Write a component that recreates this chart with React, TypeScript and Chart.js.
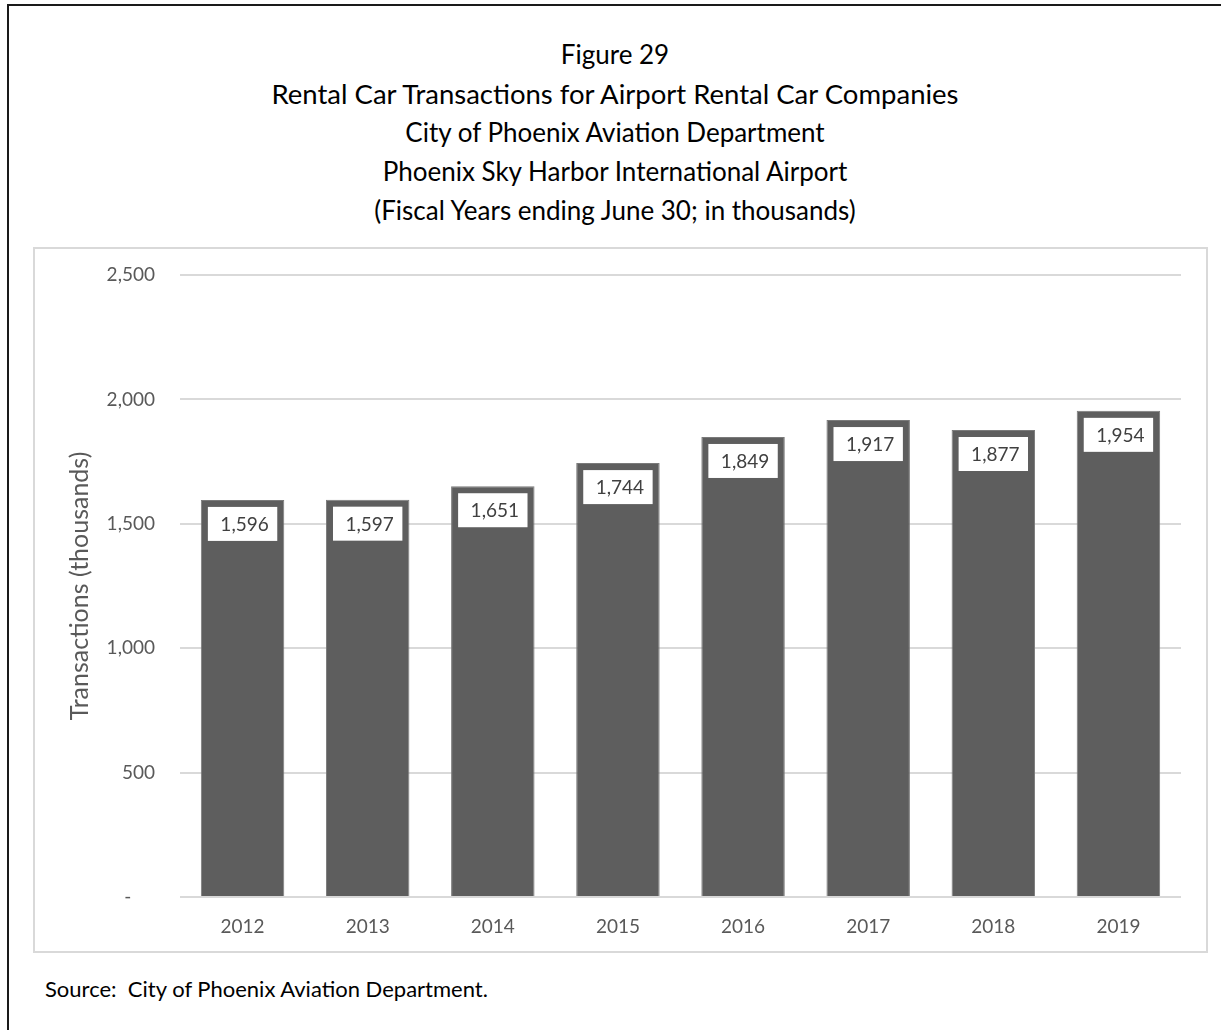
import React, { useEffect, useRef } from "react";
import { Chart, registerables } from "chart.js";

Chart.register(...registerables);

const titleLines = [
  "Figure 29",
  "Rental Car Transactions for Airport Rental Car Companies",
  "City of Phoenix Aviation Department",
  "Phoenix Sky Harbor International Airport",
  "(Fiscal Years ending June 30; in thousands)",
];
const categories = ["2012", "2013", "2014", "2015", "2016", "2017", "2018", "2019"];
const transactions = [1596, 1597, 1651, 1744, 1849, 1917, 1877, 1954];
const yMin = 0;
const yMax = 2500;
const yStep = 500;
const yAxisTitle = "Transactions (thousands)";
const sourceNote = "Source:  City of Phoenix Aviation Department.";

const FONT = "Lato, 'Open Sans', sans-serif";

const fmt = (v: number) => (v === 0 ? "-\u2003\u2002" : v.toLocaleString("en-US"));

const valueLabelPlugin = {
  id: "valueLabels",
  afterDatasetsDraw(chart: any) {
    const ctx = chart.ctx;
    const meta = chart.getDatasetMeta(0);
    const data = chart.data.datasets[0].data as number[];
    ctx.save();
    ctx.font = `19px ${FONT}`;
    meta.data.forEach((bar: any, i: number) => {
      const text = fmt(data[i]);
      const tw = ctx.measureText(text).width;
      const bw = tw + 21;
      const bh = 34;
      const top = bar.y + 7;
      ctx.fillStyle = "#ffffff";
      ctx.fillRect(bar.x - bw / 2, top, bw, bh);
      ctx.fillStyle = "#404040";
      ctx.textAlign = "center";
      ctx.textBaseline = "middle";
      ctx.fillText(text, bar.x + 2, top + bh / 2 + 1);
    });
    ctx.restore();
  },
};

function BarChart() {
  const ref = useRef<HTMLCanvasElement | null>(null);
  useEffect(() => {
    if (!ref.current) return;
    const chart = new Chart(ref.current, {
      type: "bar",
      data: {
        labels: categories,
        datasets: [
          {
            data: transactions,
            backgroundColor: "#5e5e5e",
            borderColor: "#7a7a7a",
            borderWidth: 1,
            barPercentage: 0.667,
            categoryPercentage: 1,
          },
        ],
      },
      options: {
        animation: false,
        responsive: false,
        maintainAspectRatio: false,
        layout: { padding: { left: 0, right: 25, top: 26, bottom: 0 } },
        plugins: {
          legend: { display: false },
          title: { display: false },
          tooltip: { enabled: false },
        },
        scales: {
          x: {
            grid: { display: false },
            border: { display: false },
            ticks: {
              color: "#595959",
              font: { family: FONT, size: 19 },
              padding: 10,
            },
            afterFit: (axis: any) => {
              axis.height = 54;
            },
          },
          y: {
            min: yMin,
            max: yMax,
            grid: { color: "#d9d9d9", lineWidth: 2, drawTicks: false },
            border: { display: false },
            ticks: {
              stepSize: yStep,
              color: "#595959",
              font: { family: FONT, size: 19 },
              padding: 25,
              callback: (v: any) => fmt(Number(v)),
            },
            title: {
              display: true,
              text: yAxisTitle,
              color: "#595959",
              font: { family: FONT, size: 25 },
              padding: { top: 30, bottom: 0 },
            },
            afterFit: (axis: any) => {
              axis.width = 145;
              axis.paddingTop = 0;
              axis.paddingBottom = 0;
            },
          },
        },
      },
      plugins: [valueLabelPlugin],
    } as any);
    return () => chart.destroy();
  }, []);
  return <canvas ref={ref} width={1171} height={702} style={{ display: "block", width: 1171, height: 702 }} />;
}

export default function App() {
  return (
    <div
      style={{
        position: "fixed",
        left: 0,
        top: 0,
        width: 1221,
        height: 1030,
        overflow: "hidden",
        background: "#ffffff",
        fontFamily: FONT,
      }}
    >
      <div
        style={{
          position: "absolute",
          left: 7,
          top: 4,
          width: 1400,
          height: 1200,
          borderLeft: "2px solid #1a1a1a",
          borderTop: "2px solid #1a1a1a",
        }}
      />
      <div
        style={{
          position: "absolute",
          left: 0,
          top: 35,
          width: 1230,
          textAlign: "center",
          color: "#000",
          fontSize: 26,
          lineHeight: "39px",
        }}
      >
        {titleLines.map((t, i) => (
          <div key={i} style={i === 1 ? { fontSize: 27.5 } : undefined}>
            {t}
          </div>
        ))}
      </div>
      <div
        style={{
          position: "absolute",
          left: 33,
          top: 247,
          width: 1175,
          height: 706,
          border: "2px solid #d9d9d9",
          boxSizing: "border-box",
        }}
      >
        <BarChart />
      </div>
      <div
        style={{
          position: "absolute",
          left: 45,
          top: 976,
          fontSize: 22,
          lineHeight: "26.4px",
          color: "#000",
          whiteSpace: "pre",
        }}
      >
        {sourceNote}
      </div>
    </div>
  );
}
